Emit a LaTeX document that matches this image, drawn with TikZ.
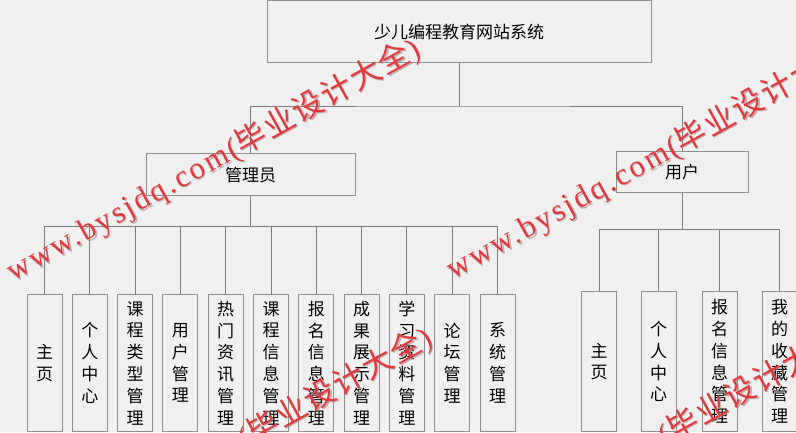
\documentclass[tikz,border=0pt]{standalone}
\usepackage{fontspec}
\newfontfamily\cjk{Noto Sans CJK SC}
\newfontfamily\wmlat{Liberation Serif}[LetterSpace=8]
\newfontfamily\wmcjk{Noto Sans CJK SC}[LetterSpace=6]
\definecolor{bg}{HTML}{F0F0F0}
\definecolor{boxc}{HTML}{8E8E8E}
\definecolor{linec}{HTML}{7C7C7C}
\definecolor{wmred}{HTML}{E5383B}
\definecolor{wmshade}{HTML}{9A8A8A}
\newcommand\wmtext{{\wmlat www.bysjdq.com(}{\wmcjk 毕业设计大全}{\wmlat )}}
\tikzset{
  box/.style={draw=boxc, line width=1pt, fill=bg, inner sep=0pt, font=\cjk\fontsize{17}{20}\selectfont},
  leaf/.style={box, minimum width=35pt, anchor=north, align=center, font=\cjk\fontsize{17}{21.8}\selectfont},
  conn/.style={draw=linec, line width=0.9pt},
  wm/.style={text=wmred, inner sep=0pt, rotate=29, font=\fontsize{31}{31}\selectfont},
  wmsh/.style={text=wmshade, opacity=0.6, inner sep=0pt, rotate=29, font=\fontsize{31}{31}\selectfont}
}
\begin{document}
\begin{tikzpicture}[x=1pt,y=1pt]
\useasboundingbox (0,0) rectangle (796,432);
\fill[bg] (0,0) rectangle (796,432);
\clip (0,0) rectangle (796,432);
% top levels
\node[box, minimum width=384pt, minimum height=62pt] (top) at (459,400) {少儿编程教育网站系统};
\node[box, minimum width=209pt, minimum height=42pt] (admin) at (250.5,257) {管理员};
\node[box, minimum width=132pt, minimum height=41pt] (user) at (682,259.5) {用户};
\coordinate (j0) at (459,326);
\coordinate (ja) at (250.5,206);
\coordinate (ju) at (682,203);
\draw[conn] (top.south) -- (j0);
\draw[conn] (admin.north) |- (j0) -| (user.north);
\draw[conn] (admin.south) -- (ja);
\draw[conn] (user.south) -- (ju);
% admin leaves
\foreach \t [count=\i from 0] in {
  {主\\页},{个\\人\\中\\心},{课\\程\\类\\型\\管\\理},{用\\户\\管\\理},
  {热\\门\\资\\讯\\管\\理},{课\\程\\信\\息\\管\\理},{报\\名\\信\\息\\管\\理},
  {成\\果\\展\\示\\管\\理},{学\\习\\资\\料\\管\\理},{论\\坛\\管\\理},{系\\统\\管\\理}}{
  \node[leaf, minimum height=137pt] (a\i) at ({44.5+45.3*\i},138) {\t};
  \draw[conn] (a\i.north) |- (ja);
}
% user leaves
\foreach \t/\x [count=\i from 0] in {
  {主\\页}/599,{个\\人\\中\\心}/658.5,{报\\名\\信\\息\\管\\理}/719.5,{我\\的\\收\\藏\\管\\理}/779.5}{
  \node[leaf, minimum height=140pt] (u\i) at (\x,141) {\t};
  \draw[conn] (u\i.north) |- (ju);
}
% watermarks
\foreach \cx/\cy [count=\k] in {213/272, 653/274, 225/-17, 645/-14}{
  \node[wmsh] (wms\k) at (\cx+1.3,\cy-1.3) {\wmtext};
  \node[wm] (wm\k) at (\cx,\cy) {\wmtext};
}
\end{tikzpicture}
\end{document}
